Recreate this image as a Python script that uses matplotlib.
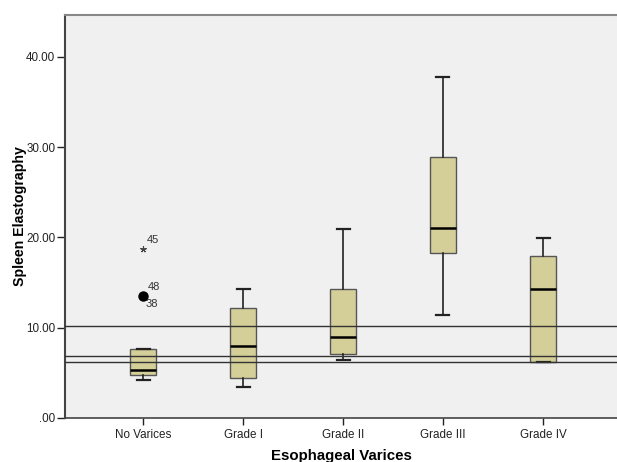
import matplotlib
matplotlib.use("Agg")
import matplotlib.pyplot as plt

categories = ["No Varices", "Grade I", "Grade II", "Grade III", "Grade IV"]
whisker_low = [4.25, 3.43, 6.43, 11.38, 6.15]
q1 = [4.76, 4.43, 7.09, 18.3, 6.24]
median = [5.28, 7.98, 8.98, 21.0, 14.33]
q3 = [7.65, 12.19, 14.29, 28.9, 17.95]
whisker_high = [7.7, 14.33, 20.95, 37.8, 19.95]

outlier_circle = 13.55   # cases 48, 38 (No Varices)
outlier_star = 18.69     # case 45 (No Varices)
ref_lines = [10.23, 6.87, 6.2]
ytick_vals = [0, 10, 20, 30, 40]
ytick_labels = [".00", "10.00", "20.00", "30.00", "40.00"]

plt.rcParams['font.family'] = ['Liberation Sans', 'DejaVu Sans']

fig = plt.figure(figsize=(6.17, 4.62), dpi=100)
ax = fig.add_axes([65/617, 1-418/462, 1-65/617, (418-15)/462])
ax.set_facecolor("#F0F0F0")

stats = []
for i, c in enumerate(categories):
    stats.append(dict(label=c, whislo=whisker_low[i], q1=q1[i], med=median[i],
                      q3=q3[i], whishi=whisker_high[i], fliers=[]))
pos = list(range(len(categories)))
ax.bxp(stats, positions=pos, widths=0.26, patch_artist=True, showfliers=False,
       boxprops=dict(facecolor="#D4CF98", edgecolor="#555555", linewidth=1.0),
       medianprops=dict(color="black", linewidth=1.8),
       whiskerprops=dict(color="#222222", linewidth=1.2),
       capprops=dict(color="#222222", linewidth=1.6), capwidths=0.13, zorder=3)

for v in ref_lines:
    ax.axhline(v, color="#333333", linewidth=1.0, zorder=4)

ax.plot([0], [outlier_circle], 'o', color="black", markersize=6.5, zorder=5)
ax.plot([0], [outlier_star], marker=(5, 2, 0), color="#444444", markersize=4.5,
        markeredgewidth=0.8, zorder=5, linestyle='none')
ax.text(0.04, outlier_star + 0.5, "45", fontsize=8, color="#333333", va="bottom", ha="left")
ax.text(0.05, outlier_circle + 0.4, "48", fontsize=8, color="#333333", va="bottom", ha="left")
ax.text(0.03, outlier_circle - 0.4, "38", fontsize=8, color="#333333", va="top", ha="left")

ax.set_xlim(-0.78, 4.74)
ax.set_ylim(0, 44.65)
ax.set_yticks(ytick_vals)
ax.set_yticklabels(ytick_labels)
ax.set_xticks(pos)
ax.set_xticklabels(categories)
ax.tick_params(axis='both', labelsize=8.4, colors="#222222", direction='out')
ax.tick_params(axis='y', length=6, width=1.0, pad=1)
ax.tick_params(axis='x', length=5, width=1.0, pad=3)

for s in ["top", "left"]:
    ax.spines[s].set_color("#888888")
    ax.spines[s].set_linewidth(1.5)
ax.spines["bottom"].set_color("#444444")
ax.spines["bottom"].set_linewidth(1.2)
ax.spines["left"].set_color("#444444")
ax.spines["right"].set_visible(False)

ax.set_xlabel("Esophageal Varices", fontsize=10.8, fontweight="bold", labelpad=6)
ax.set_ylabel("Spleen Elastography", fontsize=10.2, fontweight="bold", va="center")
ax.yaxis.set_label_coords(-0.0815, 0.5)

fig.savefig("out.png", dpi=100)
